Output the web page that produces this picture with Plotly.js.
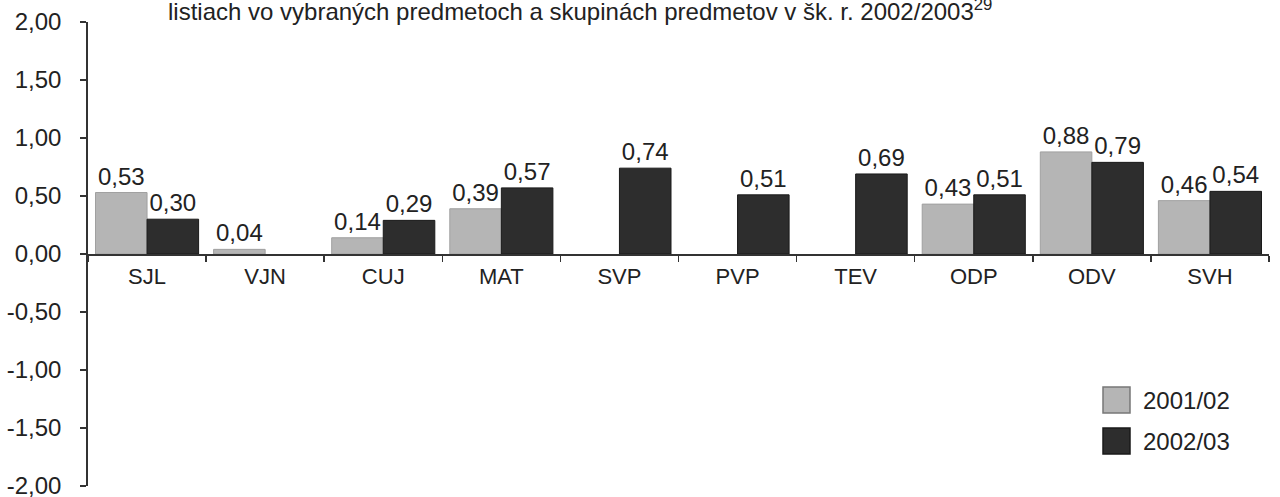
<!DOCTYPE html>
<html>
<head>
<meta charset="utf-8">
<script src="https://cdn.plot.ly/plotly-3.0.1.min.js"></script>
<style>
  html, body { margin: 0; padding: 0; background: #fff; }
  #chart { width: 1280px; height: 497px; }
</style>
</head>
<body>
<div id="chart"></div>
<script>
// ---- data ----
const categories = ['SJL', 'VJN', 'CUJ', 'MAT', 'SVP', 'PVP', 'TEV', 'ODP', 'ODV', 'SVH'];
const seriesNames = ['2001/02', '2002/03'];
const values2001 = [0.53, 0.04, 0.14, 0.39, null, null, null, 0.43, 0.88, 0.46];
const values2002 = [0.30, null, 0.29, 0.57, 0.74, 0.51, 0.69, 0.51, 0.79, 0.54];
const yTickVals = [-2, -1.5, -1, -0.5, 0, 0.5, 1, 1.5, 2];
const yTickText = ['-2,00', '-1,50', '-1,00', '-0,50', '0,00', '0,50', '1,00', '1,50', '2,00'];
const titleText = 'listiach vo vybraných predmetoch a skupinách predmetov v šk. r. 2002/2003<sup>29</sup>';

// ---- style ----
const FONT = 'Liberation Sans, Arial, sans-serif';
const TXT = '#222222';
const LIGHT = '#b5b5b5';
const DARK = '#2d2d2d';

const fmt = v => (v === null ? '' : v.toFixed(2).replace('.', ','));

const traces = [
  {
    type: 'bar', name: seriesNames[0], x: categories, y: values2001,
    text: values2001.map(fmt), textposition: 'outside', constraintext: 'none',
    cliponaxis: false,
    textfont: { family: FONT, size: 24, color: TXT },
    marker: { color: LIGHT, line: { color: '#a0a0a0', width: 1 } },
    hoverinfo: 'x+y', showlegend: false
  },
  {
    type: 'bar', name: seriesNames[1], x: categories, y: values2002,
    text: values2002.map(fmt), textposition: 'outside', constraintext: 'none',
    cliponaxis: false,
    textfont: { family: FONT, size: 24, color: TXT },
    marker: { color: DARK, line: { color: '#1a1a1a', width: 1 } },
    hoverinfo: 'x+y', showlegend: false
  }
];

// plot area in pixels: x 88..1269, y 22..486
const L = 88, R = 11, T = 22, B = 11, W = 1280, H = 497;
const pw = W - L - R, ph = H - T - B;
const px = x => (x - L) / pw;
const py = y => (H - B - y) / ph;

const legendColors = [LIGHT, DARK];
const legendLines = ['#777', '#1a1a1a'];
const legendCenters = [400, 441];
const shapes = [];
const annotations = [];
seriesNames.forEach((nm, i) => {
  const c = legendCenters[i];
  shapes.push({
    type: 'rect', xref: 'paper', yref: 'paper',
    x0: px(1103), x1: px(1130), y0: py(c + 13), y1: py(c - 13),
    fillcolor: legendColors[i], line: { color: legendLines[i], width: 1.5 }
  });
  annotations.push({
    xref: 'paper', yref: 'paper', x: px(1141), y: py(c),
    xanchor: 'left', yanchor: 'middle', showarrow: false,
    text: nm, font: { family: FONT, size: 24, color: TXT }
  });
});
annotations.push({
  xref: 'paper', yref: 'paper', x: px(166), y: py(10),
  xanchor: 'left', yanchor: 'middle', showarrow: false,
  text: titleText, font: { family: FONT, size: 24, color: TXT }
});

const layout = {
  width: W, height: H,
  margin: { l: L, r: R, t: T, b: B, pad: 0 },
  paper_bgcolor: '#ffffff', plot_bgcolor: '#ffffff',
  separators: ', ',
  barmode: 'group', bargap: 0.127, bargroupgap: 0,
  showlegend: false,
  font: { family: FONT, color: TXT },
  xaxis: {
    type: 'category', range: [-0.5, 9.5],
    anchor: 'free', position: 0.5,
    showline: true, linecolor: '#333', linewidth: 1.8,
    ticks: 'outside', tickson: 'boundaries', ticklen: 6, tickcolor: '#333', tickwidth: 1.5,
    showgrid: false, zeroline: false,
    tickfont: { family: FONT, size: 22, color: TXT },
    ticklabelstandoff: 2
  },
  yaxis: {
    range: [-2, 2], tickvals: yTickVals, ticktext: yTickText,
    showline: true, linecolor: '#333', linewidth: 1.8,
    ticks: 'outside', ticklen: 6, tickcolor: '#333', tickwidth: 1.5,
    showgrid: false, zeroline: false,
    tickfont: { family: FONT, size: 24, color: TXT },
    ticklabelstandoff: 14, ticklabeloverflow: 'allow'
  },
  shapes: shapes,
  annotations: annotations
};

Plotly.newPlot('chart', traces, layout, { displayModeBar: false, staticPlot: true });
</script>
</body>
</html>
